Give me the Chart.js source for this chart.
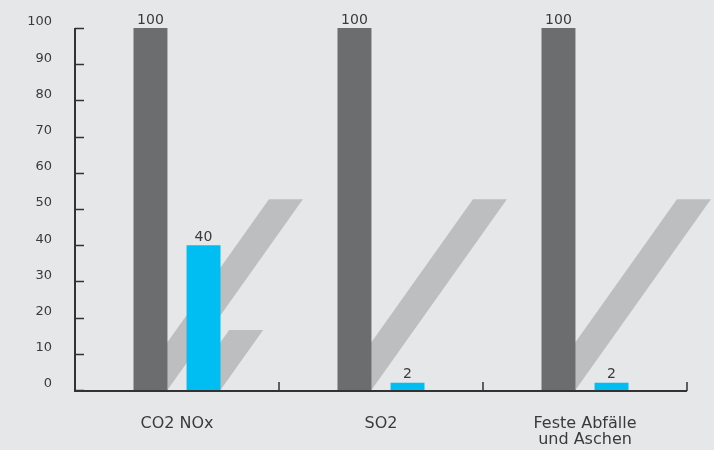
<!DOCTYPE html>
<html>
<head>
<meta charset="utf-8">
<script src="https://cdn.jsdelivr.net/npm/chart.js@4/dist/chart.umd.min.js"></script>
<style>
    html, body { margin: 0; padding: 0; background: #e6e7e9; }
    #wrap { width: 714px; height: 450px; }
</style>
</head>
<body>
<div id="wrap"><canvas id="chart"></canvas></div>
<script>
const categories = [["CO2 NOx"], ["SO2"], ["Feste Abfälle", "und Aschen"]];
const darkValues = [100, 100, 100];
const cyanValues = [40, 2, 2];
const yTicks = [0, 10, 20, 30, 40, 50, 60, 70, 80, 90, 100];
// height (in axis units) reached by the slanted shadow behind each bar
const darkShadowTops = [52.7, 52.7, 52.7];
const cyanShadowTops = [16.6, 0, 0];

const FONT = "'DejaVu Sans', sans-serif";
const TEXT = '#3a3a3a';
const AXIS = '#333333';

const shadowPlugin = {
    id: 'shadows',
    beforeDatasetsDraw(chart) {
        const ctx = chart.ctx;
        const y = chart.scales.y;
        const tops = [darkShadowTops, cyanShadowTops];
        ctx.save();
        ctx.fillStyle = '#bdbec0';
        chart.data.datasets.forEach((ds, di) => {
            chart.getDatasetMeta(di).data.forEach((bar, i) => {
                const v = tops[di][i];
                if (!v) return;
                const half = bar.width / 2;
                const base = bar.base;
                const top = y.getPixelForValue(v);
                const shift = (base - top) * 0.71;
                ctx.beginPath();
                ctx.moveTo(bar.x - half, base);
                ctx.lineTo(bar.x + half, base);
                ctx.lineTo(bar.x + half + shift, top);
                ctx.lineTo(bar.x - half + shift, top);
                ctx.closePath();
                ctx.fill();
            });
        });
        ctx.restore();
    }
};

const axisPlugin = {
    id: 'axisMarks',
    afterDatasetsDraw(chart) {
        const ctx = chart.ctx;
        const area = chart.chartArea;
        const x = chart.scales.x;
        const y = chart.scales.y;
        ctx.save();

        // value labels above the bars
        ctx.fillStyle = TEXT;
        ctx.font = '14px ' + FONT;
        ctx.textAlign = 'center';
        ctx.textBaseline = 'bottom';
        chart.data.datasets.forEach((ds, di) => {
            chart.getDatasetMeta(di).data.forEach((bar, i) => {
                ctx.fillText(String(ds.data[i]), bar.x, bar.y - 1);
            });
        });

        ctx.strokeStyle = AXIS;
        ctx.lineWidth = 2;
        ctx.beginPath();
        ctx.moveTo(area.left, y.getPixelForValue(100));
        ctx.lineTo(area.left, area.bottom + 1);
        ctx.lineTo(area.right, area.bottom + 1);
        ctx.stroke();

        ctx.lineWidth = 1.5;
        ctx.beginPath();
        y.ticks.forEach((t) => {
            const py = Math.round(y.getPixelForValue(t.value)) + 0.5;
            ctx.moveTo(area.left, py);
            ctx.lineTo(area.left + 9, py);
        });
        const step = x.getPixelForValue(1) - x.getPixelForValue(0);
        categories.forEach((c, i) => {
            const px = x.getPixelForValue(i) + step / 2;
            ctx.moveTo(px, area.bottom + 1);
            ctx.lineTo(px, area.bottom - 8);
        });
        ctx.stroke();
        ctx.restore();
    }
};

new Chart(document.getElementById('chart'), {
    type: 'bar',
    data: {
        labels: categories,
        datasets: [{
            data: darkValues,
            backgroundColor: '#6c6d6f',
            categoryPercentage: 0.52,
            barPercentage: 0.64,
        }, {
            data: cyanValues,
            backgroundColor: '#00bdf2',
            categoryPercentage: 0.52,
            barPercentage: 0.64,
        }]
    },
    options: {
        maintainAspectRatio: false,
        responsive: true,
        animation: false,
        layout: {
            padding: { top: 28, right: 27, left: 0, bottom: 0 }
        },
        scales: {
            x: {
                grid: { display: false, drawTicks: false },
                border: { display: false },
                ticks: {
                    color: TEXT,
                    padding: 26,
                    font: { family: FONT, size: 16, lineHeight: 1.0 }
                },
                afterFit(scale) { scale.height = 60; }
            },
            y: {
                min: 0,
                max: 100,
                afterBuildTicks(scale) { scale.ticks = yTicks.map((v) => ({ value: v })); },
                grid: { display: false, drawTicks: false },
                border: { display: false },
                ticks: {
                    color: TEXT,
                    padding: 23,
                    labelOffset: -6,
                    font: { family: FONT, size: 13 }
                },
                afterFit(scale) {
                    scale.width = 75;
                    scale.paddingTop = 0;
                    scale.paddingBottom = 0;
                }
            }
        },
        plugins: {
            legend: { display: false },
            tooltip: { enabled: false }
        }
    },
    plugins: [shadowPlugin, axisPlugin]
});
</script>
</body>
</html>
